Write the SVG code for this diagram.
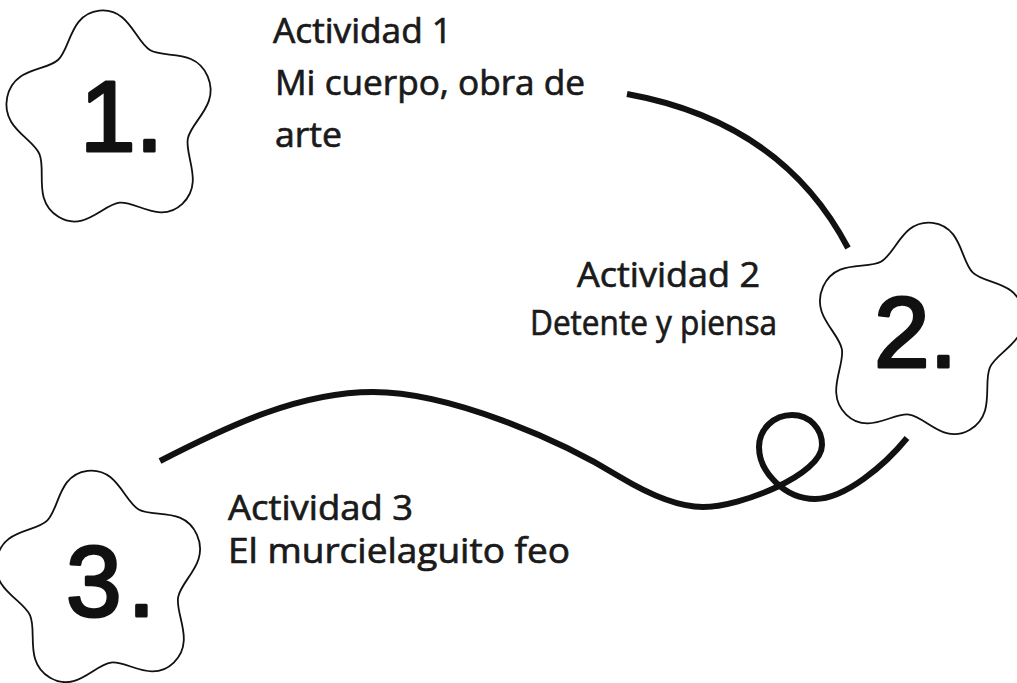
<svg xmlns="http://www.w3.org/2000/svg" xmlns:xlink="http://www.w3.org/1999/xlink" width="1017" height="683" viewBox="0 0 1017 683">
<style>
.star{fill:#ffffff;stroke:#111111;stroke-width:1.8;}
.num{font-family:"Liberation Sans",Arial,sans-serif;font-weight:normal;font-size:100px;fill:#111111;stroke:#111111;stroke-width:3;stroke-linejoin:round;}
.lbl{font-family:"Open Sans","Noto Sans",sans-serif;font-size:35px;fill:#1a1a1a;stroke:#1a1a1a;stroke-width:0.7;}
.conn{fill:none;stroke:#111111;stroke-width:6;stroke-linecap:butt;stroke-linejoin:round;}
</style>
<defs>
<path id="starShape" vector-effect="non-scaling-stroke" d="M0,-100 C28,-100 30.56,-69.27 43.5,-59.87 S86.46,-57.53 95.11,-30.9 S75.32,7.65 70.38,22.87 S81.43,64.44 58.78,80.9 S16,74 0,74 S-36.13,97.36 -58.78,80.9 S-65.44,38.09 -70.38,22.87 S-103.76,-4.27 -95.11,-30.9 S-56.44,-50.47 -43.5,-59.87 S-28,-100 0,-100 Z"/>
</defs>
<rect width="1017" height="683" fill="#ffffff"/>
<g id="connectors">
<path class="conn" d="M627,94 Q782,122 848,248"/>
<path class="conn" d="M160,461 C230,425 300,392 373,392 C450,392 560,440 620,477 C650,495 680,507 703,507 C740,507 822,475 822,445 C822,429 810,415 792,415 C774,415 759,429 759,447 C759,472 785,499 815,499 C845,499 885,465 907,438"/>
</g>
<g id="node1">
<use xlink:href="#starShape" href="#starShape" class="star" transform="translate(111,121) rotate(-6) scale(1.06,1.11)"/>
<text class="num" x="80" y="151">1.</text>
<text class="lbl" x="273" y="43" textLength="179" lengthAdjust="spacingAndGlyphs">Actividad 1</text>
<text class="lbl" x="275" y="95" textLength="310" lengthAdjust="spacingAndGlyphs">Mi cuerpo, obra de</text>
<text class="lbl" x="275" y="147" textLength="67" lengthAdjust="spacingAndGlyphs">arte</text>
</g>
<g id="node2">
<use xlink:href="#starShape" href="#starShape" class="star" transform="translate(919,333) rotate(7) scale(1.06,1.11)"/>
<text class="num" x="874" y="367">2.</text>
<text class="lbl" x="577" y="287" textLength="183" lengthAdjust="spacingAndGlyphs">Actividad 2</text>
<text class="lbl" x="530" y="335" textLength="247" lengthAdjust="spacingAndGlyphs">Detente y piensa</text>
</g>
<g id="node3">
<use xlink:href="#starShape" href="#starShape" class="star" transform="translate(101,581) rotate(-7) scale(1.06,1.11)"/>
<text class="num" x="66" y="616" letter-spacing="6">3.</text>
<text class="lbl" x="228" y="520" font-size="34" textLength="185" lengthAdjust="spacingAndGlyphs">Actividad 3</text>
<text class="lbl" x="228" y="563" font-size="34" textLength="342" lengthAdjust="spacingAndGlyphs">El murcielaguito feo</text>
</g>
</svg>
